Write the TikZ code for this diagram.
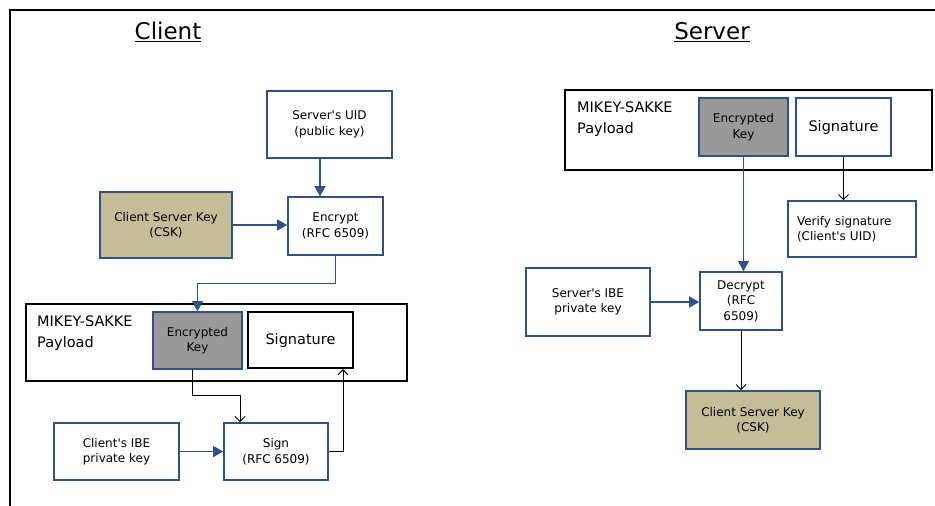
\documentclass[tikz,border=0pt]{standalone}
\usepackage{fontspec}
\setmainfont{DejaVu Sans}[Ligatures=TeXOff]
\usetikzlibrary{arrows.meta}
\definecolor{bblue}{RGB}{44,82,135}
\definecolor{tan}{RGB}{196,189,151}
\definecolor{kgray}{RGB}{153,153,153}
\begin{document}
\begin{tikzpicture}[x=1pt,y=-1pt,
  box/.style={draw=bblue,line width=1.6pt,fill=white,align=center,inner sep=2pt,font=\fontsize{12}{15.5}\selectfont},
  tanbox/.style={box,fill=tan},
  graybox/.style={box,fill=kgray},
  paybox/.style={draw=black,line width=2.4pt,fill=white},
  barrow/.style={draw=bblue,line width=1.3pt,-{Triangle[length=10pt,width=11pt]}},
  tarrow/.style={draw=bblue,line width=0.8pt,-{Triangle[length=10pt,width=11pt]}},
  oarrow/.style={draw=black,line width=1pt,-{Straight Barb[length=5pt,width=10pt]}},
  title/.style={font=\fontsize{23}{26}\selectfont},
  plabel/.style={anchor=west,align=left,font=\fontsize{14.5}{21}\selectfont,inner sep=0pt}
]
\useasboundingbox (0,0) rectangle (935,506);
% frame
\draw[line width=2.5pt] (10,506) -- (10,10) -- (935,10);
\node[title] (tclient) at (168,32) {\underline{Client}};
\node[title] (tserver) at (712,32) {\underline{Server}};

% ---------- client ----------
\node[box,minimum width=125pt,minimum height=67pt] (suid) at (329.5,124.5) {Server's UID\\(public key)};
\node[box,minimum width=95pt,minimum height=58pt] (enc) at (335.5,226) {Encrypt\\(RFC 6509)};
\node[tanbox,minimum width=132pt,minimum height=66pt] (csk) at (166,225) {Client Server Key\\(CSK)};
\node[paybox,minimum width=381pt,minimum height=77pt] (cpay) at (216.5,342.5) {};
\node[plabel] (cplab) at (37,333) {MIKEY-SAKKE\\Payload};
\node[graybox,minimum width=89pt,minimum height=57pt] (cek) at (197.5,340.5) {Encrypted\\Key};
\node[box,draw=black,line width=2.2pt,minimum width=105pt,minimum height=56pt,font=\fontsize{14.5}{16}\selectfont] (csig) at (300.5,340) {Signature};
\node[box,minimum width=125pt,minimum height=57pt] (cibe) at (116.5,451.5) {Client's IBE\\private key};
\node[box,minimum width=104pt,minimum height=57pt] (sign) at (276,451.5) {Sign\\(RFC 6509)};

\draw[barrow] ([xshift=-9.5pt]suid.south) -- ([xshift=-9.5pt]suid.south |- enc.north);
\draw[barrow] (csk.east) -- (csk.east -| enc.west);
\draw[tarrow] (enc.south) -- ++(0,28) -| (cek.north);
\draw[oarrow] ([xshift=-5.5pt]cek.south) -- ++(0,26) -| ([xshift=-36pt]sign.north);
\draw[barrow] (cibe.east) -- (sign.west);
\draw[oarrow] (sign.east) -| ([xshift=42.5pt]csig.south);

% ---------- server ----------
\node[paybox,minimum width=367pt,minimum height=80pt] (spay) at (748.5,130) {};
\node[plabel] (splab) at (577,119) {MIKEY-SAKKE\\Payload};
\node[graybox,minimum width=89pt,minimum height=58pt] (sek) at (743.5,127) {Encrypted\\Key};
\node[box,minimum width=95pt,minimum height=58pt,font=\fontsize{14.5}{16}\selectfont] (ssig) at (843.5,127) {Signature};
\node[box,minimum width=128pt,minimum height=56pt,text width=110pt,align=left,inner xsep=9pt] (ver) at (852,229) {Verify signature\\(Client's UID)};
\node[box,minimum width=82pt,minimum height=58pt] (dec) at (741,301) {Decrypt\\(RFC\\6509)};
\node[box,minimum width=124pt,minimum height=68pt] (sibe) at (588,302) {Server's IBE\\private key};
\node[tanbox,minimum width=134pt,minimum height=58pt] (scsk) at (753,420) {Client Server Key\\(CSK)};

\draw[oarrow] (ssig.south) -- (ssig.south |- ver.north);
\draw[tarrow] (sek.south) -- (sek.south |- dec.north);
\draw[barrow] (sibe.east) -- (sibe.east -| dec.west);
\draw[oarrow] (dec.south) -- (dec.south |- scsk.north);
\end{tikzpicture}
\end{document}
